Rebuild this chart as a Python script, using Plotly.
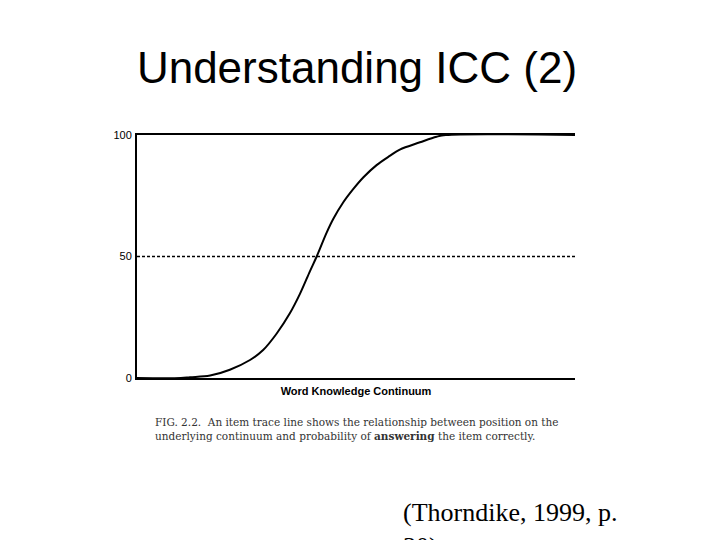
import plotly.graph_objects as go

# Item trace line (word knowledge continuum position vs. probability %)
continuum = [0, 10, 12.1, 16.7, 21.2, 25.8, 28.8, 31.9, 34.9, 37.2, 39.5, 41.0, 43.3, 44.8,
             47.1, 49.4, 51.7, 54.7, 57.8, 60.0, 64.6, 68.4, 70.5, 100]
probability = [0, 0, 0.3, 1.0, 3.4, 7.4, 11.5, 18.3, 26.6, 34.6, 44.0, 49.9, 59.8, 65.4,
               72.3, 77.8, 82.6, 87.6, 91.5, 94.0, 97.0, 99.3, 100, 100]
y_ticks = [0, 50, 100]
y_tick_labels = ["0", "50", "100"]
reference_level = 50

title_text = "Understanding ICC (2)"
x_title = "Word Knowledge Continuum"
caption = ("FIG. 2.2.&nbsp;&nbsp;An item trace line shows the relationship between position on the<br>"
           "underlying continuum and probability of <b>answering</b> the item correctly.")
source = "(Thorndike, 1999, p.<br>30)"

# page body adds an 8px offset; plot area in window coords: x 137..575, y 135..378
PX0, PW, PY0, PH = 137, 438, 378, 243

fig = go.Figure()
fig.add_trace(go.Scatter(x=continuum, y=probability, mode="lines",
                         line=dict(color="black", width=2, shape="spline", smoothing=1.0),
                         hoverinfo="skip", showlegend=False))
fig.add_hline(y=reference_level, line=dict(color="black", width=1.3, dash="3px,2px"))

fig.update_layout(
    width=720, height=540,
    paper_bgcolor="white", plot_bgcolor="white",
    margin=dict(l=129, r=153, t=127, b=170),
    title=dict(text=title_text, x=349 / 720, xanchor="center", y=1 - 60 / 540, yanchor="middle",
               font=dict(family="Liberation Sans, Arial", size=44, color="black")),
    xaxis=dict(range=[0, 100], showticklabels=False, ticks="", showgrid=False, zeroline=False,
               showline=True, linecolor="black", linewidth=1.5, mirror=True,
               title=dict(text="<b>" + x_title + "</b>", standoff=9,
                          font=dict(family="Liberation Sans, Arial", size=11, color="black"))),
    yaxis=dict(range=[0, 100], tickvals=y_ticks, ticktext=y_tick_labels, ticks="",
               showgrid=False, zeroline=False, showline=True, linecolor="black", linewidth=2,
               tickfont=dict(family="Liberation Sans, Arial", size=11, color="black"),
               ticklabelstandoff=1),
    annotations=[
        dict(text=caption, xref="paper", yref="paper", x=(153 - PX0) / PW, y=-(414 - PY0) / PH,
             xanchor="left", yanchor="top", align="left", showarrow=False,
             font=dict(family="DejaVu Serif", size=10.5, color="#333")),
        dict(text=source, xref="paper", yref="paper", x=(401 - PX0) / PW, y=-(496 - PY0) / PH,
             xanchor="left", yanchor="top", align="left", showarrow=False,
             font=dict(family="Liberation Serif, Times New Roman", size=26, color="black")),
    ],
)

fig.write_html("out.html")
